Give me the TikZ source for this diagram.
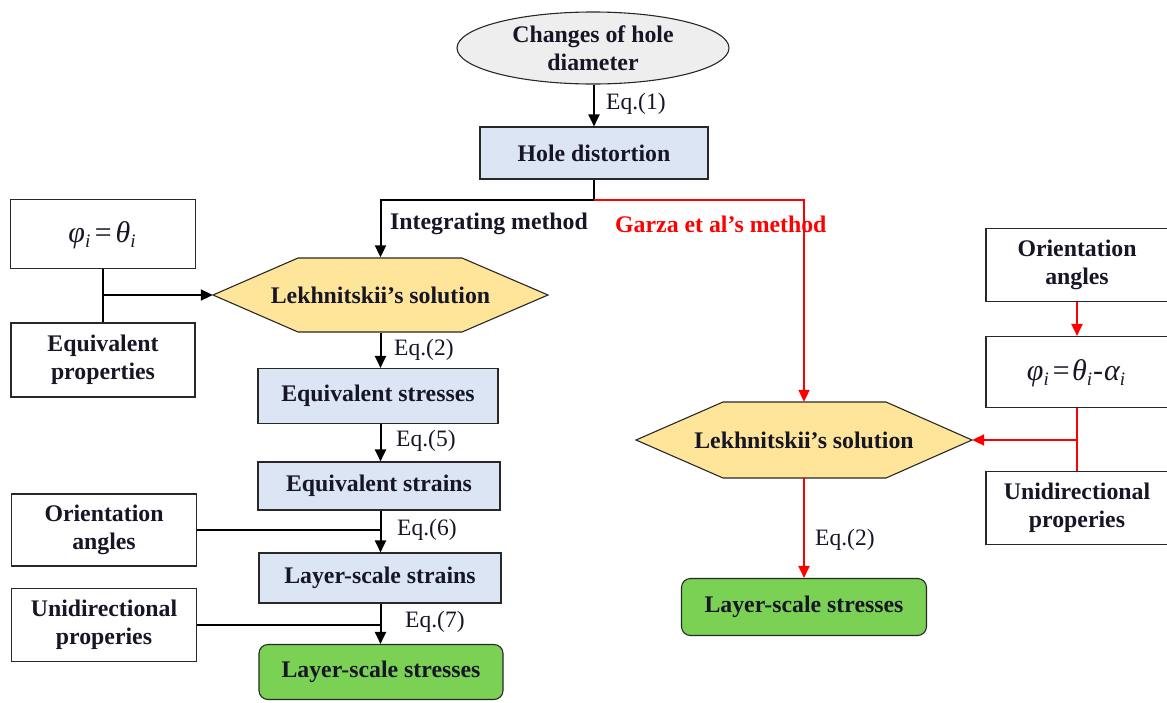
\documentclass[tikz,border=0pt]{standalone}
\usepackage{fontspec}
\setmainfont{Liberation Serif}
\usetikzlibrary{arrows.meta,shapes.geometric}
\definecolor{boxblue}{RGB}{220,229,243}
\definecolor{hexyel}{RGB}{255,229,153}
\definecolor{ellgray}{RGB}{238,238,238}
\definecolor{okgreen}{RGB}{122,209,84}
\definecolor{myred}{RGB}{255,0,0}
\definecolor{edge}{RGB}{40,40,40}
\definecolor{ink}{RGB}{22,22,38}
\newcommand{\sub}[1]{\raisebox{-0.38ex}{\fontsize{19}{19}\selectfont #1}}
\begin{document}
\begin{tikzpicture}[x=1pt,y=-1pt,
  lbl/.style={font=\fontsize{23.8}{28}\selectfont\bfseries, align=center, inner sep=0pt, text=ink},
  wbox/.style={lbl, draw=edge, line width=1.1pt, fill=white},
  bbox/.style={lbl, draw=edge, line width=1.1pt, fill=boxblue},
  gbox/.style={lbl, draw=edge, line width=1.1pt, fill=okgreen, rounded corners=9pt},
  hexfill/.style={draw=edge, line width=1.1pt, fill=hexyel},
  hexnode/.style={lbl, minimum width=335pt, minimum height=75pt},
  eq/.style={font=\fontsize{23.5}{26}\selectfont, inner sep=0pt, text=ink, anchor=west},
  math/.style={font=\fontsize{30}{32}\selectfont\itshape, inner sep=0pt, text=ink},
  arr/.style={line width=2pt, -{Triangle[length=12pt,width=11pt]}},
  ln/.style={line width=2pt},
  rarr/.style={arr, draw=myred, color=myred},
  rln/.style={ln, draw=myred}
]
\useasboundingbox (0,0) rectangle (1167,702);

% top
\node[lbl, ellipse, draw=edge, line width=1.1pt, fill=ellgray, minimum width=272pt, minimum height=72pt] (ell) at (593,48) {Changes of hole\\diameter};
\node[bbox, minimum width=228pt, minimum height=52pt] (hole) at (594,153) {Hole distortion};

% left column
\node[wbox, minimum width=185pt, minimum height=69pt] (phi1) at (103,234) {};
\node[math] (phi1t) at (102,235) {φ\sub{i}\hspace{2.5pt}=\hspace{2.5pt}θ\sub{i}};
\node[wbox, minimum width=184pt, minimum height=74pt] (eqp) at (103,360) {Equivalent\\properties};

\draw[hexfill] (213,295) -- (298,258) -- (462,258) -- (548,295) -- (462,332) -- (298,332) -- cycle;
\node[hexnode] (lek1) at (380.5,295) {Lekhnitskii’s solution};

\node[bbox, minimum width=240pt, minimum height=55pt] (es) at (378,396) {Equivalent stresses};
\node[bbox, minimum width=242pt, minimum height=48pt] (estr) at (379,486) {Equivalent strains};
\node[wbox, minimum width=185pt, minimum height=72pt] (oa1) at (104,530) {Orientation\\angles};
\node[bbox, minimum width=242pt, minimum height=50pt] (lss) at (380,578) {Layer-scale strains};
\node[wbox, minimum width=185pt, minimum height=73pt] (up1) at (104,625) {Unidirectional\\properies};
\node[gbox, minimum width=244pt, minimum height=55pt] (lst1) at (381,672) {Layer-scale stresses};

% right column
\node[wbox, minimum width=182pt, minimum height=73pt] (oa2) at (1077,265) {Orientation\\angles};
\node[wbox, minimum width=182pt, minimum height=71pt] (phi2) at (1077,372) {};
\node[math] (phi2t) at (1076,373) {φ\sub{i}\hspace{2pt}=\hspace{1pt}θ\sub{i}\hspace{1pt}-\hspace{1pt}α\sub{i}};
\node[wbox, minimum width=182pt, minimum height=73pt] (up2) at (1077,508) {Unidirectional\\properies};

\draw[hexfill] (636,440) -- (723,402) -- (886,402) -- (972,440) -- (886,478) -- (723,478) -- cycle;
\node[hexnode, minimum width=336pt, minimum height=76pt] (lek2) at (804,440) {Lekhnitskii’s solution};
\node[gbox, minimum width=245pt, minimum height=57pt] (lst2) at (804,607) {Layer-scale stresses};

% junction coordinates
\coordinate (split) at (594,200);
\coordinate (j1) at (phi1.south |- lek1.west);
\coordinate (j2) at (phi2.south |- lek2.east);

% connectors top
\draw[arr] (ell.south -| hole.north) -- (hole.north);
\node[eq] (q1) at (606,104) {Eq.(1)};
\draw[ln] (hole.south) -- (split);
\draw[arr] (split) -| (lek1.north);
\draw[rarr] (split) -| (lek2.north);
\node[lbl, anchor=west] (im) at (390,224) {Integrating method};
\node[lbl, anchor=west, text=myred] (gm) at (615,224) {Garza et al’s method};

% left connectors
\draw[ln] (phi1.south) -- (eqp.north);
\draw[arr] (j1) -- (lek1.west);
\draw[arr] (lek1.south) -- (lek1.south |- es.north);
\node[eq] (q2) at (394,350) {Eq.(2)};
\draw[arr] (es.south -| lek1.south) -- (lek1.south |- estr.north);
\node[eq] (q5) at (396,441) {Eq.(5)};
\draw[arr] (estr.south -| lek1.south) -- (lek1.south |- lss.north);
\draw[line width=1.6pt] (oa1.east) -- (oa1.east -| lek1.south);
\node[eq] (q6) at (397,530) {Eq.(6)};
\draw[arr] (lss.south -| lek1.south) -- (lek1.south |- lst1.north);
\draw[line width=1.6pt] (up1.east) -- (up1.east -| lek1.south);
\node[eq] (q7) at (405,622) {Eq.(7)};

% right connectors
\draw[rarr] (oa2.south) -- (phi2.north);
\draw[rln] (phi2.south) -- (up2.north);
\draw[rarr] (j2) -- (lek2.east);
\draw[rarr] (lek2.south) -- (lst2.north);
\node[eq] (q2b) at (815,540) {Eq.(2)};
\end{tikzpicture}
\end{document}
